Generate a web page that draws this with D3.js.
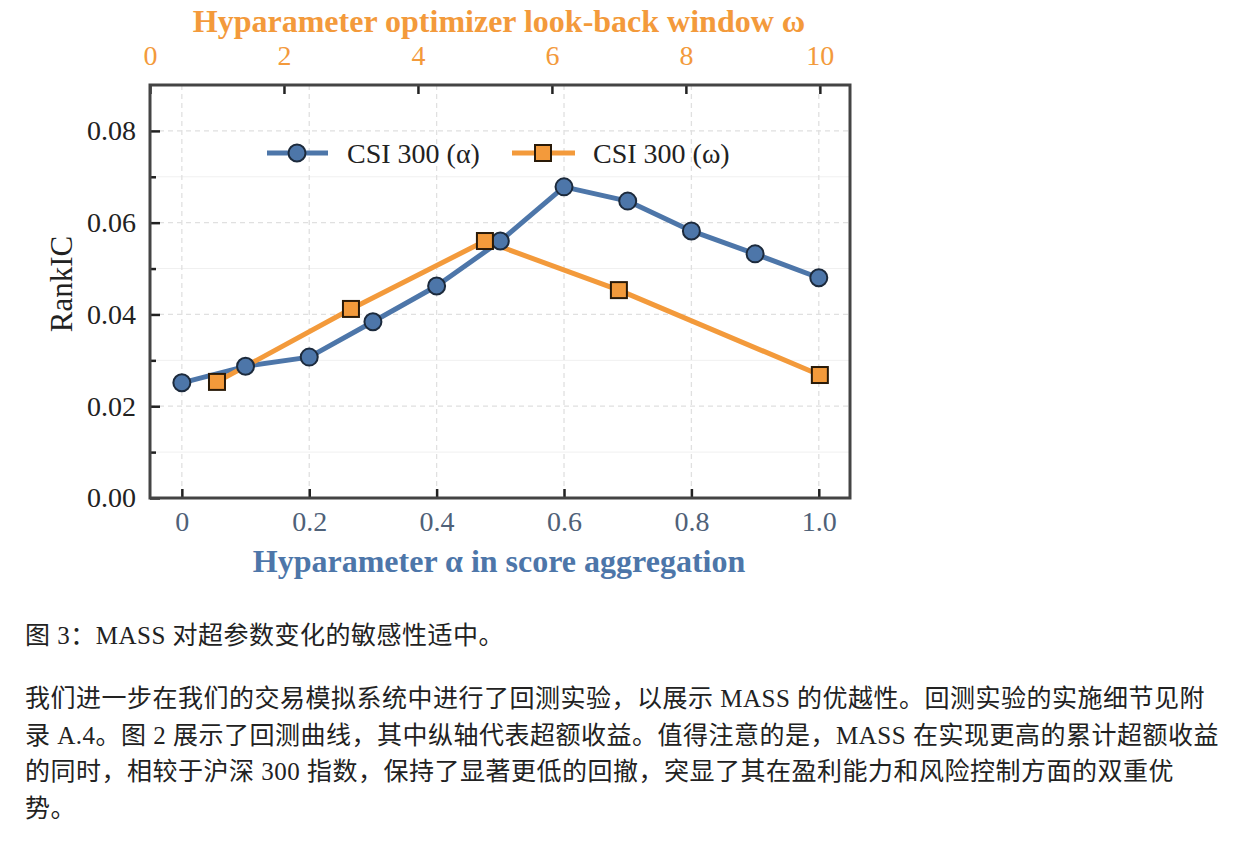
<!DOCTYPE html>
<html>
<head>
<meta charset="utf-8">
<script src="https://cdn.jsdelivr.net/npm/d3@7"></script>
<style>
  body { margin: 0; background: #fff; }
  #chart { position: absolute; left: 0; top: 0; }
  .txt { position: absolute; left: 25px; font-family: "Liberation Serif", "Noto Sans CJK SC", serif;
         font-size: 25px; letter-spacing: 0.5px; color: #222; line-height: 36.7px; white-space: nowrap; }
</style>
</head>
<body>
<div id="chart"></div>
<div class="txt" id="caption" style="top:618px;"></div>
<div class="txt" id="para" style="top:681px;"></div>
<script>
// data
var alphaVals = [0, 0.1, 0.2, 0.3, 0.4, 0.5, 0.6, 0.7, 0.8, 0.9, 1.0];
var alphaIC   = [0.0251, 0.0287, 0.0307, 0.0384, 0.0462, 0.0560, 0.0678, 0.0647, 0.0582, 0.0532, 0.0480];
var omegaVals = [1, 3, 5, 7, 10];
var omegaIC   = [0.0253, 0.0412, 0.0560, 0.0453, 0.0268];
var alphaTicks = [0, 0.2, 0.4, 0.6, 0.8, 1.0];
var omegaTicks = [0, 2, 4, 6, 8, 10];
var yTicks = [0, 0.02, 0.04, 0.06, 0.08];
var yMinor = [0.01, 0.03, 0.05, 0.07];

var captionText = "图 3：MASS 对超参数变化的敏感性适中。";
var paraLines = [
  "我们进一步在我们的交易模拟系统中进行了回测实验，以展示 MASS 的优越性。回测实验的实施细节见附",
  "录 A.4。图 2 展示了回测曲线，其中纵轴代表超额收益。值得注意的是，MASS 在实现更高的累计超额收益",
  "的同时，相较于沪深 300 指数，保持了显著更低的回撤，突显了其在盈利能力和风险控制方面的双重优",
  "势。"
];

var blue = "#4d76a9", orange = "#f39a3b";
var serif = "'Liberation Serif', 'DejaVu Serif', serif";

var plot = {left: 150, right: 850, top: 85, bottom: 498};

var svg = d3.select("#chart").append("svg")
  .attr("width", 1247).attr("height", 600);

var x = d3.scaleLinear().domain([-0.05, 1.049]).range([plot.left, plot.right]);
var xTop = d3.scaleLinear().domain([0, 10.45]).range([plot.left, plot.right]);
var y = d3.scaleLinear().domain([0, 0.09]).range([plot.bottom, plot.top]);

// grid
var grid = svg.append("g");
grid.selectAll("line.ym").data(yMinor).enter().append("line")
  .attr("x1", plot.left).attr("x2", plot.right)
  .attr("y1", function(d) { return y(d); }).attr("y2", function(d) { return y(d); })
  .attr("stroke", "#f0f0f0").attr("stroke-width", 1);
grid.selectAll("line.y").data(yTicks.slice(1)).enter().append("line")
  .attr("x1", plot.left).attr("x2", plot.right)
  .attr("y1", function(d) { return y(d); }).attr("y2", function(d) { return y(d); })
  .attr("stroke", "#e0e0e0").attr("stroke-width", 1.3).attr("stroke-dasharray", "5,4");
grid.selectAll("line.x").data(alphaTicks).enter().append("line")
  .attr("y1", plot.top).attr("y2", plot.bottom)
  .attr("x1", function(d) { return x(d); }).attr("x2", function(d) { return x(d); })
  .attr("stroke", "#e0e0e0").attr("stroke-width", 1.3).attr("stroke-dasharray", "5,4");

// axes with inward ticks
var axB = svg.append("g").attr("transform", "translate(0," + plot.bottom + ")")
  .call(d3.axisBottom(x).tickValues(alphaTicks).tickSize(-9).tickPadding(13)
    .tickFormat(function(d) { return d === 0 ? "0" : d3.format(".1f")(d); }));
var axT = svg.append("g").attr("transform", "translate(0," + plot.top + ")")
  .call(d3.axisTop(xTop).tickValues(omegaTicks).tickSize(-9).tickPadding(20));
var axL = svg.append("g").attr("transform", "translate(" + plot.left + ",0)")
  .call(d3.axisLeft(y).tickValues(yTicks).tickSize(-10).tickPadding(14).tickFormat(d3.format(".2f")));
var axLm = svg.append("g").attr("transform", "translate(" + plot.left + ",0)")
  .call(d3.axisLeft(y).tickValues(yMinor).tickSize(-6).tickFormat(""));

[axB, axT, axL, axLm].forEach(function(a) {
  a.select(".domain").remove();
  a.selectAll(".tick line").attr("stroke", "#222").attr("stroke-width", 2.5);
  a.selectAll("text").style("font-family", serif).style("font-size", "28px");
});
axL.selectAll("text").attr("fill", "#222");
axB.selectAll("text").attr("fill", "#4f6178");
axT.selectAll("text").attr("fill", orange);

// frame
svg.append("rect")
  .attr("x", plot.left).attr("y", plot.top)
  .attr("width", plot.right - plot.left).attr("height", plot.bottom - plot.top)
  .attr("fill", "none").attr("stroke", "#444").attr("stroke-width", 3);

// axis titles
svg.append("text").attr("x", 499).attr("y", 32).attr("text-anchor", "middle")
  .style("font-family", serif).style("font-size", "32px").style("font-weight", "bold")
  .attr("fill", orange).text("Hyparameter optimizer look-back window ω");
svg.append("text").attr("x", 499).attr("y", 572).attr("text-anchor", "middle")
  .style("font-family", serif).style("font-size", "32px").style("font-weight", "bold")
  .attr("fill", blue).text("Hyparameter α in score aggregation");
svg.append("text").attr("transform", "translate(72,284)rotate(-90)").attr("text-anchor", "middle")
  .style("font-family", serif).style("font-size", "31px").attr("fill", "#222").text("RankIC");

// lines
var alphaData = alphaVals.map(function(v, i) { return {x: v, y: alphaIC[i]}; });
var omegaData = omegaVals.map(function(v, i) { return {x: v, y: omegaIC[i]}; });

svg.append("path").datum(alphaData)
  .attr("fill", "none").attr("stroke", blue).attr("stroke-width", 5).attr("stroke-linejoin", "round")
  .attr("d", d3.line().x(function(d) { return x(d.x); }).y(function(d) { return y(d.y); }));
svg.append("path").datum(omegaData)
  .attr("fill", "none").attr("stroke", orange).attr("stroke-width", 5).attr("stroke-linejoin", "round")
  .attr("d", d3.line().x(function(d) { return xTop(d.x); }).y(function(d) { return y(d.y); }));

svg.selectAll("circle.a").data(alphaData).enter().append("circle")
  .attr("cx", function(d) { return x(d.x); }).attr("cy", function(d) { return y(d.y); })
  .attr("r", 8.5).attr("fill", blue).attr("stroke", "#1c2a3c").attr("stroke-width", 2);
svg.selectAll("rect.o").data(omegaData).enter().append("rect")
  .attr("x", function(d) { return xTop(d.x) - 8; }).attr("y", function(d) { return y(d.y) - 8; })
  .attr("width", 16).attr("height", 16)
  .attr("fill", orange).attr("stroke", "#2a1a08").attr("stroke-width", 2);

// legend
var lg = svg.append("g");
lg.append("line").attr("x1", 267).attr("x2", 328).attr("y1", 153).attr("y2", 153)
  .attr("stroke", blue).attr("stroke-width", 5);
lg.append("circle").attr("cx", 297).attr("cy", 153).attr("r", 8.5)
  .attr("fill", blue).attr("stroke", "#1c2a3c").attr("stroke-width", 2);
lg.append("text").attr("x", 347).attr("y", 163).style("font-family", serif).style("font-size", "28px")
  .attr("fill", "#222").text("CSI 300 (α)");
lg.append("line").attr("x1", 512).attr("x2", 575).attr("y1", 153).attr("y2", 153)
  .attr("stroke", orange).attr("stroke-width", 5);
lg.append("rect").attr("x", 535).attr("y", 145).attr("width", 16).attr("height", 16)
  .attr("fill", orange).attr("stroke", "#2a1a08").attr("stroke-width", 2);
lg.append("text").attr("x", 593).attr("y", 163).style("font-family", serif).style("font-size", "28px")
  .attr("fill", "#222").text("CSI 300 (ω)");

d3.select("#caption").text(captionText);
d3.select("#para").selectAll("div").data(paraLines).enter().append("div")
  .text(function(d) { return d; });
</script>
</body>
</html>
